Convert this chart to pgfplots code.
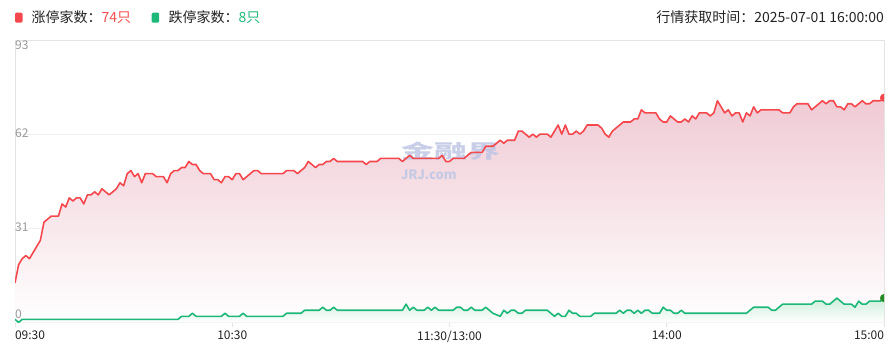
\documentclass[border=0pt]{standalone}
\usepackage{fontspec}
\setmainfont{Noto Sans CJK SC}
\usepackage{graphicx}
\usepackage{pgfplots}
\pgfplotsset{compat=1.18}
\definecolor{redline}{RGB}{245,72,76}
\definecolor{redfill}{RGB}{240,202,212}
\definecolor{greenline}{RGB}{29,183,120}
\definecolor{greenfill}{RGB}{205,238,220}
\definecolor{greendot}{RGB}{34,139,34}
\definecolor{gridgray}{RGB}{238,238,238}
\definecolor{axisgray}{RGB}{228,228,228}
\definecolor{labelgray}{RGB}{153,153,153}
\definecolor{textdark}{RGB}{34,34,34}
\definecolor{redtext}{RGB}{245,80,80}
\definecolor{greentext}{RGB}{32,186,122}
\definecolor{wmcolor}{RGB}{190,198,228}

\pgfplotstableread{
t v
0 13
1 19
2 21
3 22
4 21
5 23
6 25
7 27
8 33
9 34
10 35
12 35
13 39
14 38
15 41
16 40
17 41
18 41
19 39
20 42
21 42
22 43
23 42
24 44
25 43
26 42
27 43
28 44
29 46
30 45
31 49
32 50
33 48
34 49
35 46
36 49
38 49
39 48
41 48
42 46
43 49
44 50
45 50
46 51
47 51
48 53
49 52
50 52
51 50
52 49
54 49
55 47
56 47
57 46
58 48
59 48
60 47
61 49
62 49
63 47
64 48
65 49
66 50
67 50
68 49
74 49
75 50
77 50
78 49
79 50
80 51
81 53
82 52
83 51
84 52
85 52
86 53
87 53
88 54
89 53
96 53
97 52
98 53
100 53
101 54
106 54
107 53
108 54
109 55
110 54
117 54
118 55
119 53
120 53
121 54
124 54
125 55
126 56
129 56
130 58
132 58
133 59
134 60
135 59
136 60
138 60
139 63
140 63
141 62
142 61
143 62
144 61
145 62
147 62
148 61
149 63
150 65
151 62
152 65
153 62
154 62
155 63
156 62
157 63
158 65
161 65
162 64
163 62
164 61
165 63
166 64
167 65
168 66
170 66
171 67
172 67
173 70
174 69
177 69
178 67
179 66
180 66
181 68
182 67
183 66
184 66
185 67
186 66
187 68
188 67
189 69
191 69
192 68
193 69
194 73
195 71
196 69
197 70
198 68
199 69
200 69
201 66
202 69
203 68
204 71
205 69
206 70
211 70
212 69
214 69
215 71
216 72
219 72
220 70
221 71
222 72
223 73
224 72
225 73
226 73
227 71
228 71
229 70
230 72
231 72
232 71
233 72
234 73
235 72
236 72
237 73
239 73
240 74
}\zt

\pgfplotstableread{
t v
0 1
1 0
2 1
45 1
46 2
48 2
49 3
50 2
57 2
58 3
59 2
62 2
63 3
64 2
74 2
75 3
79 3
80 4
84 4
85 5
86 4
87 4
88 5
89 4
107 4
108 6
109 4
110 5
111 4
113 4
114 5
115 4
116 5
117 4
121 4
122 5
123 5
124 4
125 4
126 5
127 4
129 4
130 5
131 4
132 3
134 2
135 4
136 3
137 4
138 4
139 3
140 3
141 4
147 4
148 3
149 2
150 3
151 2
152 2
153 4
154 3
155 3
156 2
159 2
160 3
166 3
167 4
168 3
169 4
170 4
171 3
172 4
173 3
174 4
175 4
176 3
178 3
179 5
180 4
181 4
182 3
183 3
184 4
185 3
202 3
204 5
208 5
209 4
210 4
212 6
220 6
221 7
223 7
224 6
225 6
227 8
228 7
229 6
231 6
232 5
233 7
234 6
235 6
236 7
239 7
240 8
}\dt

\begin{document}
\begin{tikzpicture}[x=1pt,y=1pt]
\useasboundingbox (0,0) rectangle (894,358);
% header
\fill[redline, rounded corners=1.2pt] (15,335.3) rectangle (22.5,345.3);
\node[anchor=base west, inner sep=0pt, font=\fontsize{14}{16}\selectfont, text=textdark] at (31.5,335.3) {涨停家数：\textcolor{redtext}{74只}};
\fill[greenline, rounded corners=1.2pt] (151.7,335.3) rectangle (159.2,345.3);
\node[anchor=base west, inner sep=0pt, font=\fontsize{14}{16}\selectfont, text=textdark] at (168.3,335.3) {跌停家数：\textcolor{greentext}{8只}};
\node[anchor=base east, inner sep=0pt, font=\fontsize{14}{16}\selectfont, text=textdark] at (884,335.3) {行情获取时间：2025-07-01 16:00:00};

\begin{axis}[
  at={(15pt,35.6pt)}, anchor=south west,
  scale only axis, width=869pt, height=282.4pt,
  xmin=0, xmax=240, ymin=0, ymax=93,
  axis line style={draw=axisgray, line width=0.8pt},
  ytick={0,31,62,93}, yticklabels={},
  ymajorgrids, grid style={draw=gridgray, line width=0.8pt},
  ytick style={draw=none},
  xtick={0,60,120,180,240}, xtick pos=left,
  tick align=outside, major tick length=5pt,
  xtick style={draw=axisgray, line width=0.8pt},
  xticklabels={\makebox[0pt][l]{09:30},10:30,11:30/13:00,14:00,\makebox[0pt][r]{15:00}},
  xticklabel style={font=\fontsize{12}{14}\selectfont, text=textdark, inner sep=0pt, anchor=north, yshift=-3pt},
  clip marker paths=true,
]
\addplot[draw=none, top color=redfill, bottom color=white] table[x=t,y=v]{\zt} \closedcycle;
\addplot[draw=none, top color=greenfill, bottom color=white] table[x=t,y=v]{\dt} \closedcycle;
\node[text=wmcolor, opacity=0.85, font=\bfseries\fontsize{33}{33}\selectfont, inner sep=0pt] at (axis cs:120.5,56.5) {\scalebox{1}[0.58]{金融界}};
\node[text=wmcolor, opacity=0.85, font=\bfseries\fontsize{13}{14}\selectfont, inner sep=0pt, anchor=west] at (axis cs:106.5,48.5) {JRJ.com};
\addplot[redline, line width=1.6pt, line join=round] table[x=t,y=v]{\zt};
\addplot[greenline, line width=1.6pt, line join=round] table[x=t,y=v]{\dt};
\addplot[only marks, mark=*, mark size=3.8pt, redline] coordinates {(240,74)};
\addplot[only marks, mark=*, mark size=3.8pt, greendot] coordinates {(240,8)};
\node[anchor=north west, inner sep=0pt, font=\fontsize{12}{14}\selectfont, text=labelgray] at (axis cs:0,93) [yshift=-0.7pt] {93};
\node[anchor=west, inner sep=0pt, font=\fontsize{12}{14}\selectfont, text=labelgray] at (axis cs:0,62) [yshift=1pt] {62};
\node[anchor=west, inner sep=0pt, font=\fontsize{12}{14}\selectfont, text=labelgray] at (axis cs:0,31) [yshift=0.8pt] {31};
\node[anchor=south west, inner sep=0pt, font=\fontsize{12}{14}\selectfont, text=labelgray] at (axis cs:0,0) [yshift=3.4pt] {0};
\end{axis}
\end{tikzpicture}
\end{document}
